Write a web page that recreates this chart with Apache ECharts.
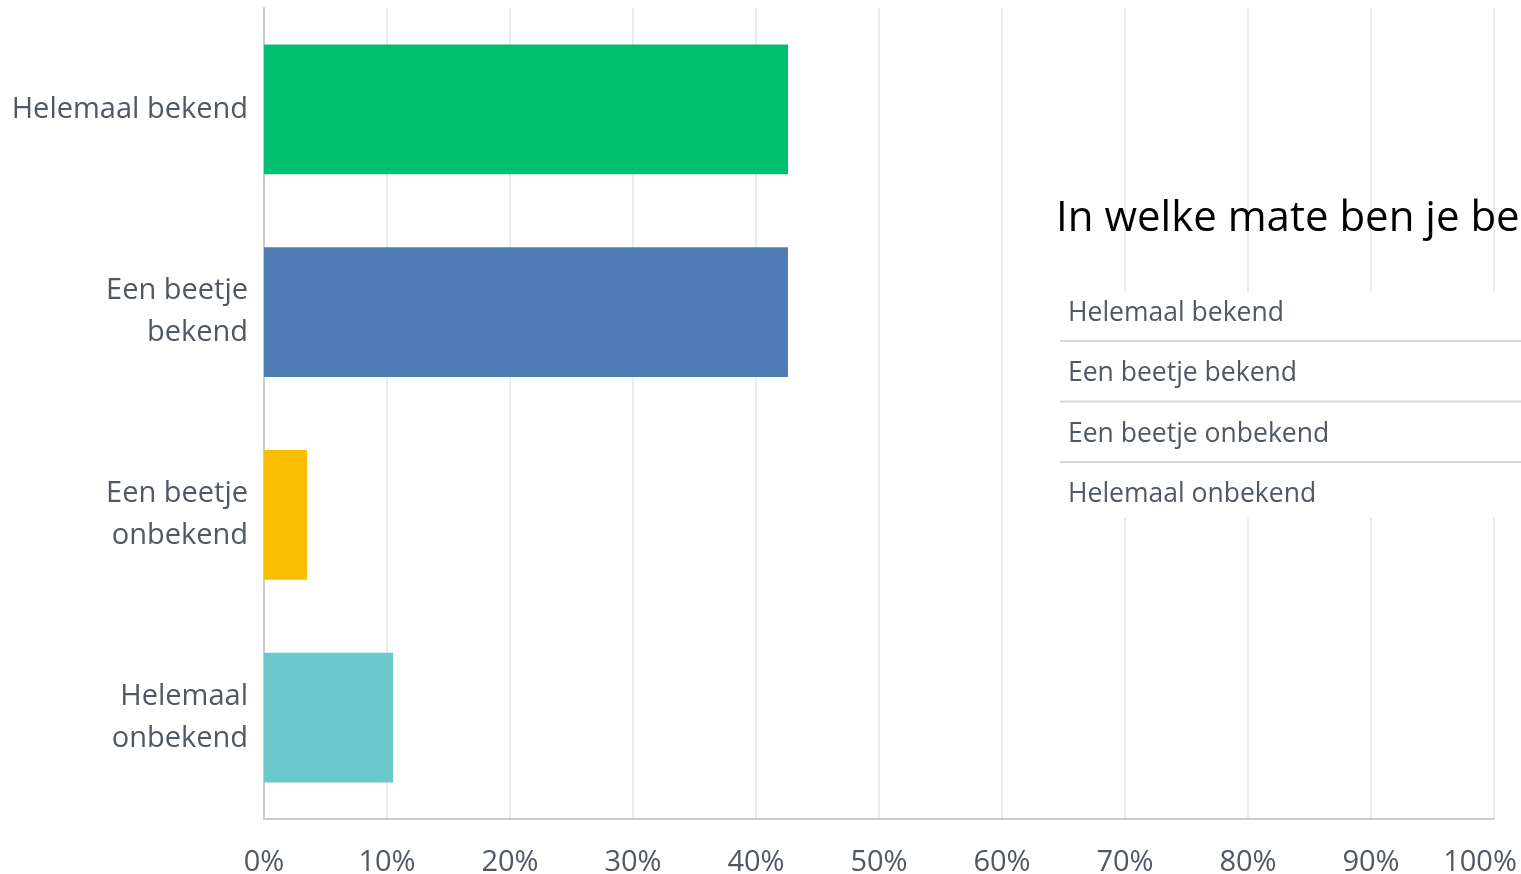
<!DOCTYPE html>
<html>
<head>
<meta charset="utf-8">
<script src="https://cdn.jsdelivr.net/npm/echarts@6/dist/echarts.min.js"></script>
<style>
  html, body { margin: 0; padding: 0; background: #ffffff; }
  #chart { width: 1521px; height: 874px; }
</style>
</head>
<body>
<div id="chart"></div>
<script>
// Answer options, in display order (top to bottom)
const categories = ['Helemaal bekend', 'Een beetje bekend', 'Een beetje onbekend', 'Helemaal onbekend'];
// Wrapped versions used as the y-axis tick labels
const categoryTickLabels = ['Helemaal bekend', 'Een beetje\nbekend', 'Een beetje\nonbekend', 'Helemaal\nonbekend'];
// Share of respondents per answer (%)
const percentages = [42.6, 42.6, 3.5, 10.5];
const barColors = ['#00bf6f', '#507cb6', '#f9be00', '#6bc8cd'];
const questionTitle = 'In welke mate ben je be';

const FONT = '"Open Sans", "Noto Sans", sans-serif';
const TEXT_COLOR = '#505863';
const chart = echarts.init(document.getElementById('chart'));

// Answer list panel drawn over the right part of the plot
const panelX = 1060, panelTop = 292, rowH = 60.5;
const panel = [
  { type: 'rect', shape: { x: panelX, y: panelTop, width: 470, height: 226 }, style: { fill: '#ffffff' }, z: 10 },
  { type: 'text', x: 1056, y: 219, style: { text: questionTitle, font: '42px ' + FONT, fill: '#000000', textVerticalAlign: 'middle' }, z: 11 }
];
categories.forEach((name, i) => {
  panel.push({
    type: 'text', x: 1068, y: 313 + i * rowH,
    style: { text: name, font: '26.5px ' + FONT, fill: TEXT_COLOR, textVerticalAlign: 'middle' }, z: 11
  });
  if (i < categories.length - 1) {
    const ly = 341 + i * rowH;
    panel.push({
      type: 'line', shape: { x1: panelX, y1: ly, x2: 1521, y2: ly },
      style: { stroke: '#d6d6d6', lineWidth: 2 }, z: 11
    });
  }
});

chart.setOption({
  animation: false,
  grid: { left: 264, right: 27, top: 8, bottom: 55, containLabel: false, outerBoundsMode: 'none' },
  xAxis: {
    type: 'value', min: 0, max: 100, interval: 10,
    axisLine: { show: true, lineStyle: { color: '#cccccc', width: 2 } },
    axisTick: { show: false },
    splitLine: { show: true, lineStyle: { color: '#ebebeb', width: 2 } },
    axisLabel: {
      // the last label is nudged left so it stays inside the canvas
      formatter: v => v === 100 ? '{last|' + v + '%}' : v + '%',
      fontSize: 29, fontFamily: FONT, color: TEXT_COLOR, margin: 29,
      rich: { last: { fontSize: 29, fontFamily: FONT, color: TEXT_COLOR, padding: [0, 28, 0, 0] } }
    }
  },
  yAxis: {
    type: 'category', data: categories, inverse: true,
    axisLine: { show: true, lineStyle: { color: '#cccccc', width: 2 } },
    axisTick: { show: false },
    splitLine: { show: false },
    axisLabel: {
      formatter: (v, idx) => categoryTickLabels[idx],
      fontSize: 29, lineHeight: 42, fontFamily: FONT, color: TEXT_COLOR, margin: 16, align: 'right',
      padding: [6, 0, 0, 0]
    }
  },
  series: [{
    type: 'bar',
    barWidth: '64%',
    data: percentages.map((v, i) => ({ value: v, itemStyle: { color: barColors[i] } }))
  }],
  graphic: panel
});
</script>
</body>
</html>
